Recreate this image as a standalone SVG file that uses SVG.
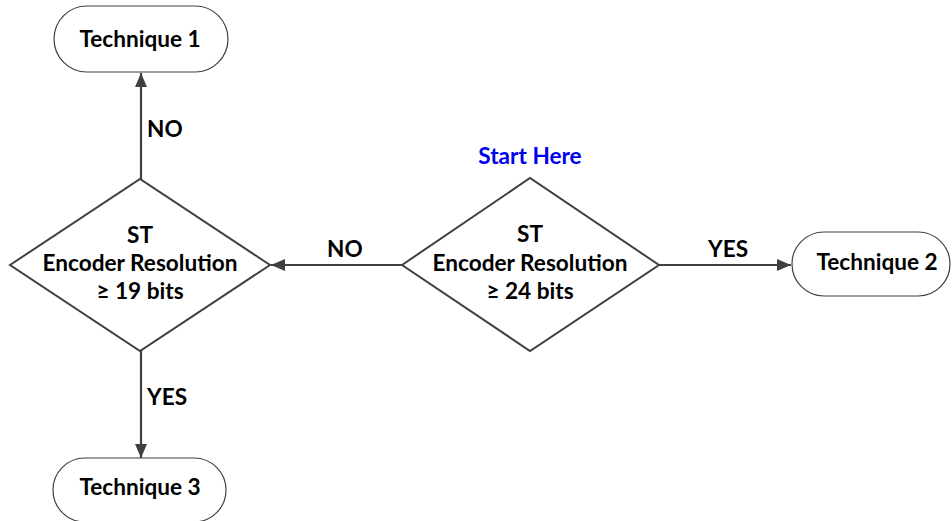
<svg xmlns="http://www.w3.org/2000/svg" width="952" height="521" viewBox="0 0 952 521">
  <defs>
    <style>
      .term { fill: #ffffff; stroke: #404040; stroke-width: 1.2; }
      .dec { fill: #ffffff; stroke: #404040; stroke-width: 2; }
      .txt { font-family: Lato, "Liberation Sans", sans-serif; font-weight: bold; font-size: 22.6px; fill: #000000; text-anchor: middle; }
      .lbl { font-family: Lato, "Liberation Sans", sans-serif; font-weight: bold; font-size: 22.6px; fill: #000000; }
      .start { font-family: Lato, "Liberation Sans", sans-serif; font-weight: bold; font-size: 22.6px; fill: #0000ee; text-anchor: middle; }
      .conn { stroke: #404040; stroke-width: 2.2; fill: none; marker-end: url(#arrow); }
    </style>
    <marker id="arrow" markerWidth="16" markerHeight="12" refX="14" refY="6" orient="auto" markerUnits="userSpaceOnUse">
      <path d="M0,0 L14,6 L0,12 Z" fill="#404040"/>
    </marker>
  </defs>
  <rect width="952" height="521" fill="#ffffff"/>

  <g id="connectors">
    <line class="conn" x1="141" y1="179" x2="141" y2="73"/>
    <line class="conn" x1="141" y1="351" x2="141" y2="458"/>
    <line class="conn" x1="402" y1="265" x2="271" y2="265"/>
    <line class="conn" x1="659" y1="265" x2="791" y2="265"/>
    <text class="lbl" x="147" y="137">NO</text>
    <text class="lbl" x="147" y="405">YES</text>
    <text class="lbl" x="327" y="257">NO</text>
    <text class="lbl" x="708" y="257">YES</text>
  </g>

  <g id="technique1">
    <rect class="term" x="54" y="6" width="174" height="66" rx="33" ry="33"/>
    <text class="txt" x="140" y="47">Technique 1</text>
  </g>

  <g id="technique2">
    <rect class="term" x="792" y="232" width="158" height="64" rx="32" ry="32"/>
    <text class="txt" x="877" y="270">Technique 2</text>
  </g>

  <g id="technique3">
    <rect class="term" x="53" y="458" width="173" height="64" rx="32" ry="32"/>
    <text class="txt" x="140" y="495">Technique 3</text>
  </g>

  <g id="decision19">
    <polygon class="dec" points="10,265 140,179 270,265 140,351"/>
    <text class="txt" x="140" y="243">ST</text>
    <text class="txt" x="140" y="271">Encoder Resolution</text>
    <text class="txt" x="140" y="299">≥ 19 bits</text>
  </g>

  <g id="decision24">
    <text class="start" x="530" y="164">Start Here</text>
    <polygon class="dec" points="402,265 530,178 659,265 530,351"/>
    <text class="txt" x="530" y="242">ST</text>
    <text class="txt" x="530" y="271">Encoder Resolution</text>
    <text class="txt" x="530" y="299">≥ 24 bits</text>
  </g>
</svg>
